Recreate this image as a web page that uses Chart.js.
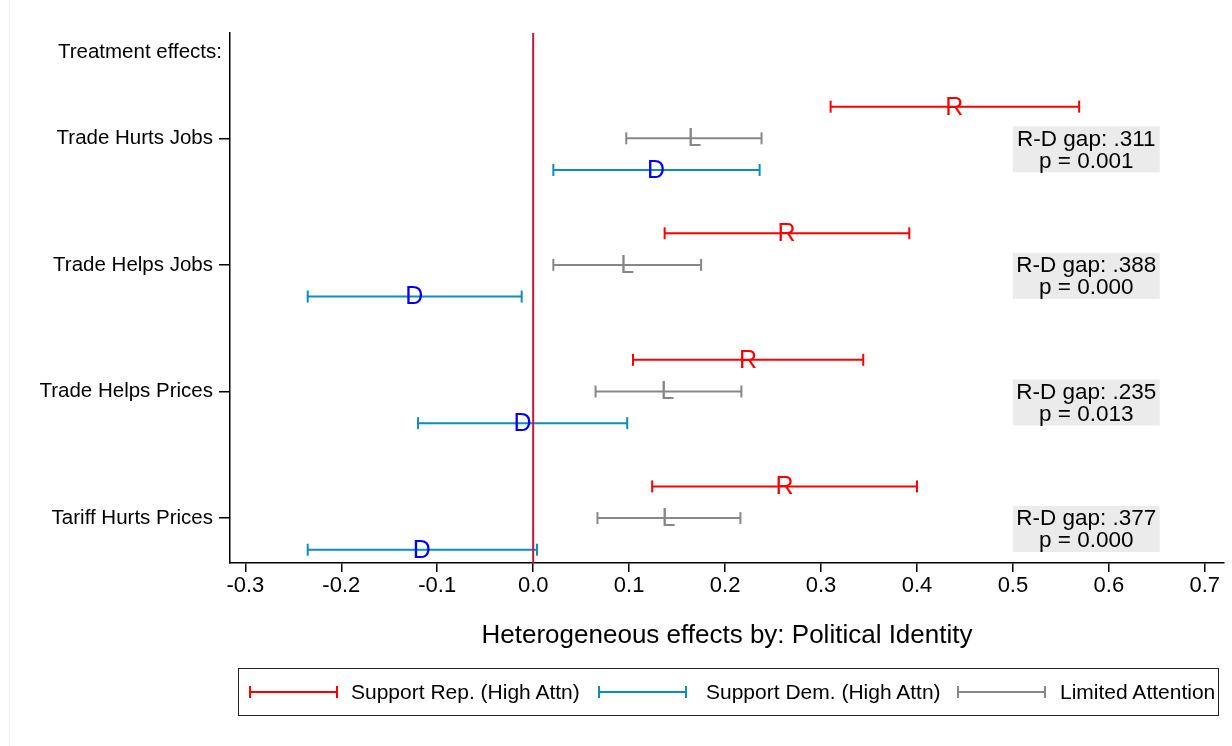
<!DOCTYPE html>
<html>
<head>
<meta charset="UTF-8">
<title>Heterogeneous effects by Political Identity</title>
<script src="https://cdn.jsdelivr.net/npm/chart.js"></script>
<style>
    body {
        margin: 0;
        padding: 0;
        background: #FFFFFF;
        font-family: "Liberation Sans", Arial, sans-serif;
    }
    .wrap {
        position: relative;
        width: 1232px;
        height: 746px;
    }
    .edge {
        position: absolute;
        left: 9px;
        top: 0;
        width: 1px;
        height: 746px;
        background: #ECEFED;
    }
    .legend {
        position: absolute;
        left: 238px;
        top: 668px;
        width: 979px;
        height: 46px;
        border: 1px solid #222222;
    }
    .legend span {
        position: absolute;
        top: 0;
        height: 46px;
        line-height: 46px;
        font-size: 21px;
        color: #000000;
        white-space: nowrap;
    }
    .legend .swatch {
        top: 17px;
        width: 85px;
        height: 12px;
        border-left: 2px solid;
        border-right: 2px solid;
        background-repeat: no-repeat;
        background-position: center;
        background-size: 100% 2px;
    }
</style>
</head>
<body>
<div class="wrap">
    <div class="edge"></div>
    <canvas id="coef-chart" width="1232" height="746"></canvas>
    <div class="legend" id="legend"></div>
</div>

<script>
    // categorias e valores
    const categories = ['Trade Hurts Jobs', 'Trade Helps Jobs', 'Trade Helps Prices', 'Tariff Hurts Prices'];
    const headerLabel = 'Treatment effects:';

    const repEst = [0.439, 0.264, 0.224, 0.262];
    const repLo  = [0.310, 0.137, 0.104, 0.124];
    const repHi  = [0.569, 0.392, 0.344, 0.400];

    const demEst = [0.128, -0.124, -0.011, -0.116];
    const demLo  = [0.021, -0.235, -0.120, -0.235];
    const demHi  = [0.236, -0.012, 0.098, 0.004];

    const limEst = [0.168, 0.098, 0.140, 0.141];
    const limLo  = [0.097, 0.021, 0.065, 0.067];
    const limHi  = [0.238, 0.175, 0.217, 0.216];

    const gapValues = ['.311', '.388', '.235', '.377'];
    const pValues = ['0.001', '0.000', '0.013', '0.000'];

    const xTicks = [-0.3, -0.2, -0.1, 0.0, 0.1, 0.2, 0.3, 0.4, 0.5, 0.6, 0.7];
    const xTitle = 'Heterogeneous effects by: Political Identity';

    const series = [
        { name: 'Support Rep. (High Attn)', letter: 'R', est: repEst, lo: repLo, hi: repHi, offset: -0.25, color: '#FF0000', letterColor: '#FF0000', swatch: 249, text: 351 },
        { name: 'Support Dem. (High Attn)', letter: 'D', est: demEst, lo: demLo, hi: demHi, offset: 0.25, color: '#0A8CC4', letterColor: '#0000FF', swatch: 598, text: 706 },
        { name: 'Limited Attention', letter: 'L', est: limEst, lo: limLo, hi: limHi, offset: 0, color: '#878787', letterColor: '#878787', swatch: 957, text: 1060 }
    ];

    const FONT = '"Liberation Sans", Arial, sans-serif';
    Chart.defaults.font.family = FONT;
    Chart.defaults.color = '#000000';

    // monta os segmentos de cada intervalo (null separa as linhas)
    function ciPoints(s) {
        const pts = [];
        s.lo.forEach((v, i) => {
            pts.push({ x: v, y: i + 1 + s.offset });
            pts.push({ x: s.hi[i], y: i + 1 + s.offset });
            pts.push({ x: null, y: null });
        });
        return pts;
    }

    // cabeçalho, linha do zero, caixas de texto e letras
    const overlay = {
        id: 'overlay',
        beforeDatasetsDraw(chart) {
            const { ctx, chartArea, scales: { x, y } } = chart;
            ctx.save();
            ctx.fillStyle = '#000000';
            ctx.font = '20.5px ' + FONT;
            ctx.textAlign = 'right';
            ctx.textBaseline = 'middle';
            ctx.fillText(headerLabel, chartArea.left - 8, y.getPixelForValue(0.313) + 1);

            categories.forEach((c, i) => {
                const row = i + 1;
                const left = x.getPixelForValue(0.5);
                const right = x.getPixelForValue(0.653);
                const top = y.getPixelForValue(row - 0.095);
                const bottom = y.getPixelForValue(row + 0.268);
                ctx.fillStyle = '#EBEBEB';
                ctx.fillRect(left, top, right - left, bottom - top);
                ctx.fillStyle = '#000000';
                ctx.font = '22.5px ' + FONT;
                ctx.textAlign = 'center';
                ctx.textBaseline = 'middle';
                const cx = (left + right) / 2;
                ctx.fillText('R-D gap: ' + gapValues[i], cx, y.getPixelForValue(row) + 1);
                ctx.fillText('p = ' + pValues[i], cx, y.getPixelForValue(row + 0.174) + 1);
            });
            ctx.restore();
        },
        afterDatasetsDraw(chart) {
            const { ctx, chartArea, scales: { x, y } } = chart;
            ctx.save();
            const x0 = x.getPixelForValue(0);
            ctx.strokeStyle = '#C8143A';
            ctx.lineWidth = 2;
            ctx.beginPath();
            ctx.moveTo(x0, chartArea.top);
            ctx.lineTo(x0, chartArea.bottom);
            ctx.stroke();

            ctx.font = '25px ' + FONT;
            ctx.textAlign = 'center';
            ctx.textBaseline = 'middle';
            series.forEach(s => {
                ctx.fillStyle = s.letterColor;
                s.est.forEach((v, i) => {
                    ctx.fillText(s.letter, x.getPixelForValue(v), y.getPixelForValue(i + 1 + s.offset) + 1);
                });
            });
            ctx.restore();
        }
    };

    const ctx = document.getElementById('coef-chart').getContext('2d');
    new Chart(ctx, {
        type: 'scatter',
        data: {
            datasets: series.map(s => ({
                label: s.name,
                data: ciPoints(s),
                showLine: true,
                spanGaps: false,
                borderColor: s.color,
                borderWidth: 2,
                pointStyle: 'line',
                rotation: 90,
                pointRadius: 6,
                pointHoverRadius: 6,
                pointBorderWidth: 2,
                pointBorderColor: s.color,
                pointBackgroundColor: s.color
            }))
        },
        options: {
            responsive: false,
            animation: false,
            events: [],
            layout: { padding: { top: 33, right: 6, bottom: 95, left: 0 } },
            plugins: {
                legend: { display: false },
                tooltip: { enabled: false }
            },
            scales: {
                x: {
                    type: 'linear',
                    min: -0.316,
                    max: 0.72,
                    afterBuildTicks: scale => { scale.ticks = xTicks.map(v => ({ value: v })); },
                    afterFit: scale => {
                        scale.height = 88;
                        scale.paddingLeft = 0;
                        scale.paddingRight = 0;
                    },
                    border: { display: true, color: '#000000', width: 1.5 },
                    grid: { drawOnChartArea: false, drawTicks: true, tickLength: 9, color: '#000000', lineWidth: 1.5 },
                    ticks: {
                        font: { size: 22 },
                        color: '#000000',
                        padding: 1,
                        maxRotation: 0,
                        autoSkip: false,
                        callback: v => v.toFixed(1)
                    },
                    title: {
                        display: true,
                        text: xTitle,
                        font: { size: 26 },
                        color: '#000000',
                        padding: { top: 0, bottom: 0 }
                    }
                },
                y: {
                    type: 'linear',
                    reverse: true,
                    min: 0.168,
                    max: 4.355,
                    afterBuildTicks: scale => {
                        scale.ticks = [1, 2, 3, 4].map(v => ({ value: v }));
                    },
                    afterFit: scale => {
                        scale.width = 230;
                        scale.paddingTop = 0;
                        scale.paddingBottom = 0;
                    },
                    border: { display: true, color: '#000000', width: 1.5 },
                    grid: {
                        drawOnChartArea: false,
                        drawTicks: true,
                        tickLength: 11,
                        lineWidth: 1.5,
                        color: '#000000'
                    },
                    ticks: {
                        font: { size: 20.5 },
                        color: '#000000',
                        padding: 6,
                        autoSkip: false,
                        callback: (v, i) => categories[i]
                    }
                }
            }
        },
        plugins: [overlay]
    });

    // legenda em HTML com amostras de linha com travessões
    const legend = document.getElementById('legend');
    series.forEach(s => {
        const sw = document.createElement('span');
        sw.className = 'swatch';
        sw.style.left = (s.swatch - 239) + 'px';
        sw.style.borderColor = s.color;
        sw.style.backgroundImage = 'linear-gradient(' + s.color + ',' + s.color + ')';
        legend.appendChild(sw);
        const tx = document.createElement('span');
        tx.textContent = s.name;
        tx.style.left = (s.text - 239) + 'px';
        legend.appendChild(tx);
    });
</script>
</body>
</html>
